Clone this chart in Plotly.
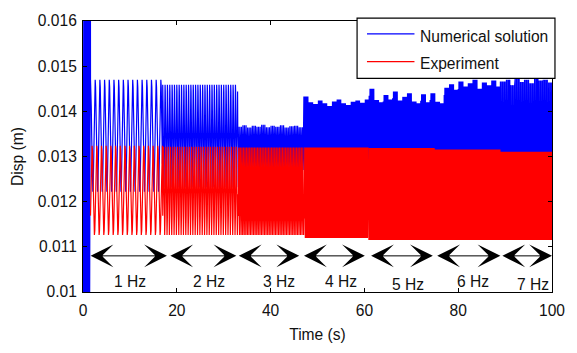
import numpy as np
import plotly.graph_objects as go

# ---------------- data ----------------
hz_labels = ["1 Hz", "2 Hz", "3 Hz", "4 Hz", "5 Hz", "6 Hz", "7 Hz"]
seg_freq = [1, 2, 3, 4, 5, 6, 7]                       # excitation frequency (Hz)
seg_start = [1.6, 17.0, 33.1, 47.2, 60.8, 75.0, 89.0]  # s
seg_end = [17.0, 33.1, 47.2, 60.8, 75.0, 89.0, 100.0]  # s

# numerical solution: peak value for each second (t = 0..99 s)
blue_peak = [0.01470] + [0.01470] * 16 + [0.01459] * 16 + [
    0.01366, 0.01369, 0.01364, 0.01368, 0.01366, 0.01370, 0.01365,
    0.01368, 0.01366, 0.01369, 0.01364, 0.01367, 0.01368, 0.01365,
] + [
    0.01433, 0.01420, 0.01416, 0.01424, 0.01418, 0.01412, 0.01422,
    0.01426, 0.01418, 0.01414, 0.01421, 0.01424, 0.01419, 0.01426,
] + [
    0.01450, 0.01425, 0.01420, 0.01436, 0.01426, 0.01444, 0.01424,
    0.01432, 0.01440, 0.01422, 0.01418, 0.01438, 0.01420, 0.01440,
] + [
    0.01421, 0.01418, 0.01452, 0.01460, 0.01448, 0.01466, 0.01455,
    0.01462, 0.01470, 0.01450, 0.01464, 0.01458, 0.01468, 0.01455,
] + [
    0.01466, 0.01470, 0.01458, 0.01472, 0.01465, 0.01470, 0.01462,
    0.01472, 0.01468, 0.01470, 0.01464,
]
blue_trough = [0.01222, 0.01232, 0.01270, 0.01225, 0.01220, 0.01218, 0.01215]
blue_start_band = [0.0, 1.6]          # initial transient (s)
blue_start_range = [0.0092, 0.0168]   # exceeds the axis range

# experiment
red_peak = [0.01324, 0.01322, 0.01320, 0.01320, 0.01319, 0.01316, 0.01311]
red_trough = [0.01126, 0.01126, 0.01126, 0.01119, 0.01115, 0.01115, 0.01115]

# double arrows marking each frequency stage
arrow_start = [1.3, 18.3, 32.9, 46.8, 61.1, 75.2, 89.1]
arrow_end = [17.9, 32.7, 46.1, 60.1, 74.6, 89.0, 100.0]
arrow_y = 0.0108
label_x = [10.1, 26.8, 41.8, 55.1, 69.4, 83.1, 95.9]
label_y = [0.01023, 0.01023, 0.01023, 0.01023, 0.01017, 0.01023, 0.01017]

x_ticks = [0, 20, 40, 60, 80, 100]
y_ticks = [0.010, 0.011, 0.012, 0.013, 0.014, 0.015, 0.016]
y_ticktext = ["0.01", "0.011", "0.012", "0.013", "0.014", "0.015", "0.016"]

# ---------------- build the oscillating signals ----------------
PPC = 12  # samples per cycle


def segment_wave(f, a, b, lo, hi_of_t, phase):
    t = np.arange(a, b, 1.0 / (f * PPC))
    hi = np.array([hi_of_t(tt) for tt in t])
    y = lo + (hi - lo) * (0.5 + 0.5 * np.sin(2 * np.pi * f * (t - a) + phase))
    return t, y


tbs, ybs = [], []
t0 = np.arange(blue_start_band[0], blue_start_band[1], 0.02)
tbs.append(t0)
ybs.append(np.where(np.arange(len(t0)) % 2 == 0, blue_start_range[0], blue_start_range[1]))
for k, (f, a, b) in enumerate(zip(seg_freq, seg_start, seg_end)):
    t, y = segment_wave(f, a, b, blue_trough[k],
                        lambda tt: blue_peak[min(int(tt), len(blue_peak) - 1)], np.pi / 2)
    tbs.append(t)
    ybs.append(y)
tb = np.concatenate(tbs)
yb = np.concatenate(ybs)

trs, yrs = [], []
for k, (f, a, b) in enumerate(zip(seg_freq, seg_start, seg_end)):
    t, y = segment_wave(f, a, b, red_trough[k], lambda tt, k=k: red_peak[k], -0.6)
    trs.append(t)
    yrs.append(y)
tr = np.concatenate(trs)
yr = np.concatenate(yrs)

fig = go.Figure()
fig.add_trace(go.Scatter(x=tb, y=yb, mode="lines", name="Numerical solution",
                         line=dict(color="#0000ff", width=1.2), showlegend=False))
fig.add_trace(go.Scatter(x=tr, y=yr, mode="lines", name="Experiment",
                         line=dict(color="#ff0000", width=1.2), showlegend=False))

FONT = "Liberation Sans, Arial, Helvetica, sans-serif"
FS = 15.6

# arrows
for a, b in zip(arrow_start, arrow_end):
    fig.add_annotation(x=b, y=arrow_y, ax=a, ay=arrow_y, xref="x", yref="y",
                       axref="x", ayref="y", text="", showarrow=True,
                       arrowside="end+start", arrowhead=3, startarrowhead=3,
                       arrowsize=3.8, startarrowsize=3.8, arrowwidth=1,
                       arrowcolor="#000000", standoff=0, startstandoff=0)
for lx, ly, txt in zip(label_x, label_y, hz_labels):
    fig.add_annotation(x=lx, y=ly, xref="x", yref="y", text=txt, showarrow=False,
                       font=dict(family=FONT, size=FS, color="#111111"))

# manual legend box (MATLAB style)
W, H = 577, 353
L, R, T, B = 83, 20, 13, 57
pw, ph = W - L - R, H - T - B


def px(xp):
    return (xp - L) / pw


def py(yp):
    return (H - B - yp) / ph


fig.add_shape(type="rect", xref="paper", yref="paper", x0=px(360), x1=px(560),
              y0=py(73), y1=py(10), fillcolor="white",
              line=dict(color="black", width=1.2), layer="above")
fig.add_shape(type="line", xref="paper", yref="paper", x0=px(370), x1=px(418),
              y0=py(26.5), y1=py(26.5), line=dict(color="#0000ff", width=1.3), layer="above")
fig.add_shape(type="line", xref="paper", yref="paper", x0=px(370), x1=px(418),
              y0=py(55.5), y1=py(55.5), line=dict(color="#ff0000", width=1.3), layer="above")
fig.add_annotation(x=px(422), y=py(29), xref="paper", yref="paper", xanchor="left",
                   yanchor="middle", text="Numerical solution", showarrow=False,
                   font=dict(family=FONT, size=FS, color="#111111"))
fig.add_annotation(x=px(422), y=py(57), xref="paper", yref="paper", xanchor="left",
                   yanchor="middle", text="Experiment", showarrow=False,
                   font=dict(family=FONT, size=FS, color="#111111"))

fig.update_layout(
    width=W, height=H, margin=dict(l=L, r=R, t=T, b=B),
    plot_bgcolor="white", paper_bgcolor="white",
    font=dict(family=FONT, size=FS, color="#111111"),
    showlegend=False,
    xaxis=dict(range=[0, 100], tickvals=x_ticks, ticks="inside", ticklen=4,
               tickcolor="black", showline=True, linecolor="black", linewidth=1,
               mirror="ticks", showgrid=False, zeroline=False,
               ticklabelstandoff=4, tickfont=dict(size=FS),
               title=dict(text="Time (s)", standoff=11, font=dict(size=FS))),
    yaxis=dict(range=[0.010, 0.016], tickvals=y_ticks, ticktext=y_ticktext,
               ticks="inside", ticklen=4, tickcolor="black", showline=True,
               linecolor="black", linewidth=1, mirror="ticks", showgrid=False,
               zeroline=False, ticklabelstandoff=2, tickfont=dict(size=FS),
               title=dict(text="Disp (m)", standoff=10, font=dict(size=FS))),
)

fig.write_html("out.html")
